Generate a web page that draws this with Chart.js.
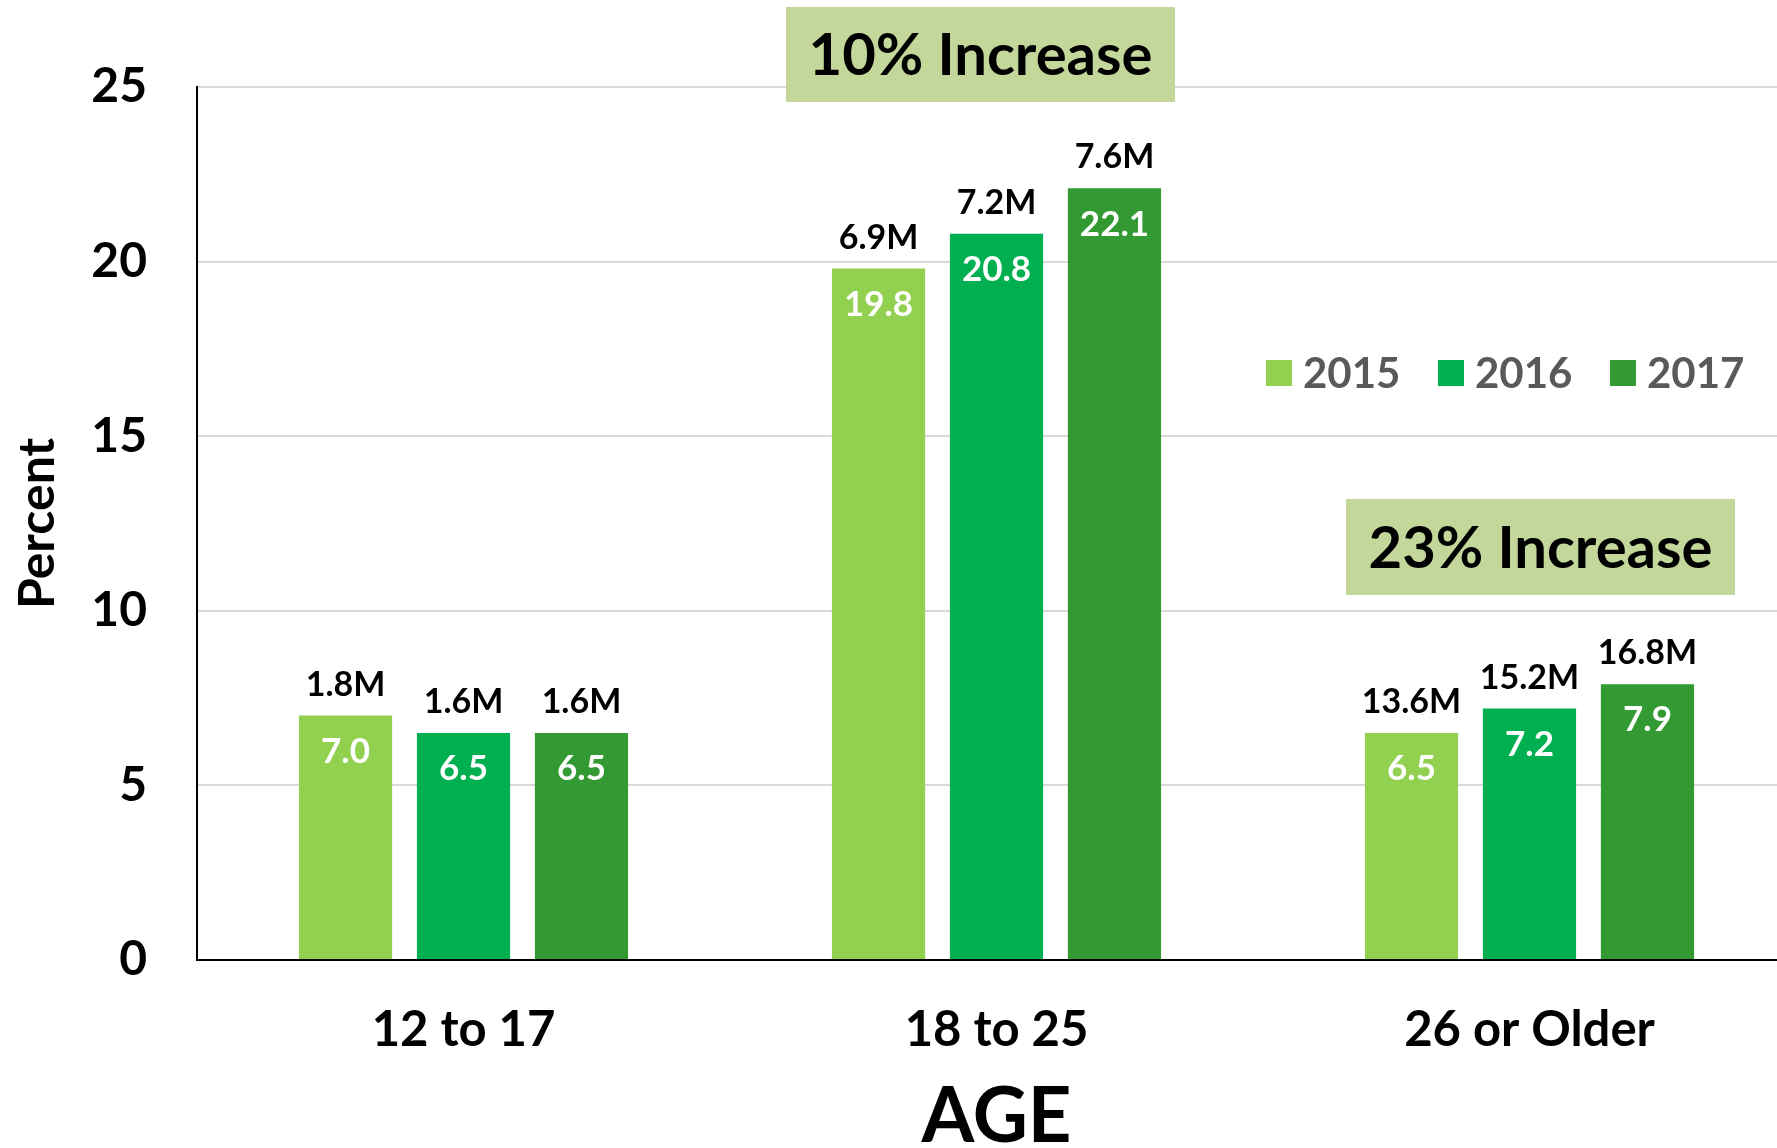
<!DOCTYPE html>
<html>
<head>
<meta charset="utf-8">
<script src="https://cdn.jsdelivr.net/npm/chart.js@4.4.0/dist/chart.umd.min.js"></script>
<style>
  html, body { margin: 0; padding: 0; background: #fff; overflow: hidden; }
  #wrap { width: 1800px; height: 1148px; position: relative; }
</style>
</head>
<body>
<div id="wrap"><canvas id="chart"></canvas></div>
<script>
//  DATA
var categories = ["12 to 17", "18 to 25", "26 or Older"];
var years = ["2015", "2016", "2017"];

var pct2015 = [7.0, 19.8, 6.5];
var pct2016 = [6.5, 20.8, 7.2];
var pct2017 = [6.5, 22.1, 7.9];

var millions2015 = [1.8, 6.9, 13.6];
var millions2016 = [1.6, 7.2, 15.2];
var millions2017 = [1.6, 7.6, 16.8];

var yTicks = [0, 5, 10, 15, 20, 25];

var noteCategory = ["18 to 25", "26 or Older"];
var noteText = ["10% Increase", "23% Increase"];

var colors = ["#92D050", "#00B050", "#339933"];
var FONT = "Lato";

var millions = [millions2015, millions2016, millions2017];

//  PLUGINS
var barLabels = {
  id: "barLabels",
  afterDatasetsDraw: function (chart) {
    var ctx = chart.ctx;
    ctx.save();
    ctx.textAlign = "center";
    ctx.textBaseline = "middle";
    for (var i = 0; i < chart.data.datasets.length; i++) {
      var meta = chart.getDatasetMeta(i);
      var vals = chart.data.datasets[i].data;
      for (var j = 0; j < meta.data.length; j++) {
        var bar = meta.data[j];
        ctx.font = "bold 34px " + FONT;
        ctx.fillStyle = "#000";
        ctx.fillText(millions[i][j].toFixed(1) + "M", bar.x, bar.y - 31);
        ctx.font = "bold 35px " + FONT;
        ctx.fillStyle = "#fff";
        ctx.fillText(vals[j].toFixed(1), bar.x, bar.y + 36);
      }
    }
    ctx.restore();
  }
};

var extras = {
  id: "extras",
  afterDraw: function (chart) {
    var ctx = chart.ctx;
    var xs = chart.scales.x;
    ctx.save();

    // callout boxes
    var boxes = [
      { dx: -16, top: 7, h: 95 },
      { dx: 11, top: 499, h: 96 }
    ];
    for (var i = 0; i < noteText.length; i++) {
      var cx = xs.getPixelForValue(categories.indexOf(noteCategory[i])) + boxes[i].dx;
      var w = 389;
      ctx.fillStyle = "#C4D79B";
      ctx.fillRect(cx - w / 2, boxes[i].top, w, boxes[i].h);
      ctx.fillStyle = "#000";
      ctx.font = "bold 58px " + FONT;
      ctx.textAlign = "center";
      ctx.textBaseline = "middle";
      ctx.fillText(noteText[i], cx, boxes[i].top + boxes[i].h / 2 + 2);
    }

    // legend
    var lx = 1266;
    var ly = 373;
    ctx.font = "bold 42px " + FONT;
    ctx.textAlign = "left";
    ctx.textBaseline = "middle";
    for (var k = 0; k < chart.data.datasets.length; k++) {
      var ds = chart.data.datasets[k];
      ctx.fillStyle = ds.backgroundColor;
      ctx.fillRect(lx, ly - 13, 26, 26);
      ctx.fillStyle = "#595959";
      ctx.fillText(ds.label, lx + 37, ly + 1);
      lx += 172;
    }
    ctx.restore();
  }
};

//  CHART
new Chart(document.getElementById("chart"), {
  type: "bar",
  data: {
    labels: categories,
    datasets: [
      { label: years[0], data: pct2015, backgroundColor: colors[0] },
      { label: years[1], data: pct2016, backgroundColor: colors[1] },
      { label: years[2], data: pct2017, backgroundColor: colors[2] }
    ]
  },
  options: {
    responsive: true,
    maintainAspectRatio: false,
    animation: false,
    categoryPercentage: 0.664,
    barPercentage: 0.79,
    layout: { padding: { top: 87, right: 4, left: 0, bottom: 0 } },
    plugins: {
      legend: { display: false },
      tooltip: { enabled: false }
    },
    scales: {
      x: {
        grid: { display: false, drawTicks: false },
        border: { color: "#000", width: 2 },
        ticks: {
          color: "#000",
          padding: 41,
          font: { family: FONT, size: 49, weight: "bold" }
        },
        title: {
          display: true,
          text: "AGE",
          color: "#000",
          font: { family: FONT, size: 76, weight: "bold", lineHeight: 0.8 },
          padding: { top: 0, bottom: 0 }
        },
        afterFit: function (s) { s.height = 188; }
      },
      y: {
        min: 0,
        max: 25,
        afterBuildTicks: function (s) {
          s.ticks = yTicks.map(function (v) { return { value: v }; });
        },
        grid: { color: "#D9D9D9", lineWidth: 2, drawTicks: false },
        border: { color: "#000", width: 2 },
        ticks: {
          color: "#000",
          padding: 50,
          font: { family: FONT, size: 48, weight: "bold" }
        },
        title: {
          display: true,
          text: "Percent",
          color: "#000",
          font: { family: FONT, size: 50, weight: "bold", lineHeight: 1.2 },
          padding: { top: 8, bottom: 0 }
        },
        afterFit: function (s) { s.width = 197; }
      }
    }
  },
  plugins: [barLabels, extras]
});
</script>
</body>
</html>
